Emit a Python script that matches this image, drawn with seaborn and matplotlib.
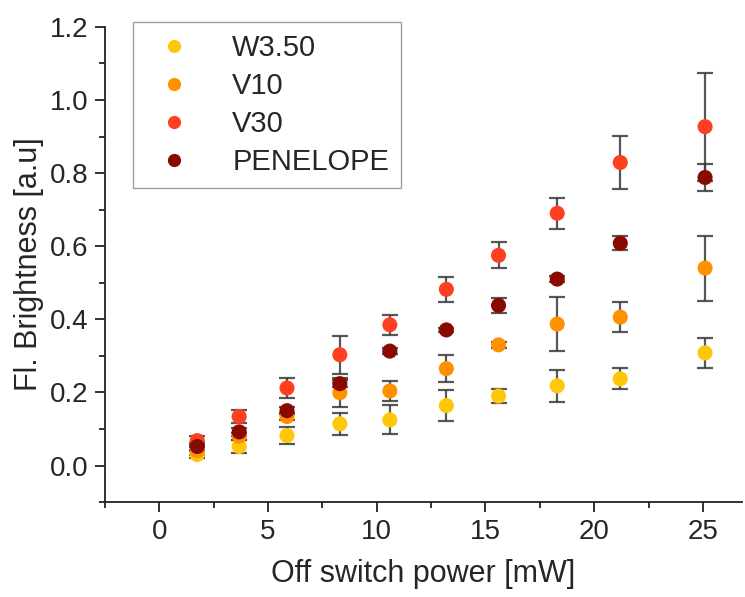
import numpy as np
import pandas as pd
import matplotlib
matplotlib.use("Agg")
import matplotlib.pyplot as plt
from matplotlib.ticker import MultipleLocator
from matplotlib.lines import Line2D
import seaborn as sns

power = [1.74, 3.67, 5.87, 8.3, 10.6, 13.2, 15.6, 18.3, 21.2, 25.1]
series = ["W3.50", "V10", "V30", "PENELOPE"]
w350 = [0.030, 0.052, 0.082, 0.114, 0.125, 0.164, 0.190, 0.218, 0.237, 0.308]
w350_err = [0.010, 0.017, 0.024, 0.030, 0.040, 0.043, 0.020, 0.044, 0.029, 0.041]
v10 = [0.040, 0.080, 0.134, 0.199, 0.204, 0.265, 0.330, 0.387, 0.406, 0.540]
v10_err = [0.010, 0.010, 0.010, 0.040, 0.028, 0.037, 0.008, 0.075, 0.041, 0.089]
v30 = [0.068, 0.134, 0.212, 0.303, 0.385, 0.482, 0.575, 0.690, 0.829, 0.927]
v30_err = [0.012, 0.017, 0.028, 0.052, 0.027, 0.035, 0.036, 0.043, 0.073, 0.148]
pen = [0.052, 0.092, 0.150, 0.224, 0.313, 0.371, 0.438, 0.510, 0.608, 0.788]
pen_err = [0.010, 0.010, 0.010, 0.010, 0.008, 0.006, 0.020, 0.008, 0.019, 0.036]
colors = ["#FFC70A", "#FF9000", "#FF4020", "#8B0A00"]

vals = [w350, v10, v30, pen]
errs = [w350_err, v10_err, v30_err, pen_err]
df = pd.DataFrame({
    "power": np.tile(power, len(series)),
    "brightness": np.concatenate(vals),
    "err": np.concatenate(errs),
    "series": np.repeat(series, len(power)),
})

sns.set_style("ticks")
plt.rcParams["font.family"] = ["Liberation Sans", "DejaVu Sans"]

fig = plt.figure(figsize=(7.45, 5.97), dpi=100)
ax = fig.add_axes([0.141, 0.159, 0.855, 0.796])

for name, col in zip(series, colors):
    sub = df[df["series"] == name]
    ax.errorbar(sub["power"], sub["brightness"], yerr=sub["err"], fmt="none",
                ecolor="#3a3a3a", alpha=0.85, elinewidth=1.6, capsize=5.5,
                capthick=1.6, zorder=2)

sns.scatterplot(data=df, x="power", y="brightness", hue="series",
                palette=dict(zip(series, colors)), s=118, linewidth=0,
                ax=ax, zorder=3, legend=False)

ax.set_xlim(-2.5, 26.8)
ax.set_ylim(-0.1, 1.2)
ax.xaxis.set_major_locator(MultipleLocator(5))
ax.xaxis.set_minor_locator(MultipleLocator(2.5))
ax.yaxis.set_major_locator(MultipleLocator(0.2))
ax.yaxis.set_minor_locator(MultipleLocator(0.1))
ax.yaxis.set_major_formatter(matplotlib.ticker.FormatStrFormatter("%.1f"))
ax.tick_params(which="major", direction="out", length=7, width=1.3,
               labelsize=20, color="#222222", pad=5)
ax.tick_params(which="minor", direction="out", length=4, width=1.3,
               color="#222222")
for s in ["top", "right"]:
    ax.spines[s].set_visible(False)
for s in ["left", "bottom"]:
    ax.spines[s].set_linewidth(1.3)
    ax.spines[s].set_color("#222222")

ax.set_xlabel("Off switch power [mW]", fontsize=22, labelpad=10)
ax.set_ylabel("Fl. Brightness [a.u]", fontsize=22, labelpad=4)

handles = [Line2D([], [], marker="o", linestyle="none", markersize=9.5,
                  markerfacecolor=c, markeredgewidth=0) for c in colors]
leg = ax.legend(handles, series, loc="upper left",
                bbox_to_anchor=(0.044, 1.01), fontsize=21, frameon=True,
                fancybox=False, edgecolor="#888888", handlelength=2.0,
                handletextpad=1.0, labelspacing=0.35, borderpad=0.4,
                borderaxespad=0)
leg.get_frame().set_linewidth(1.0)

fig.savefig("out.png", dpi=100)
